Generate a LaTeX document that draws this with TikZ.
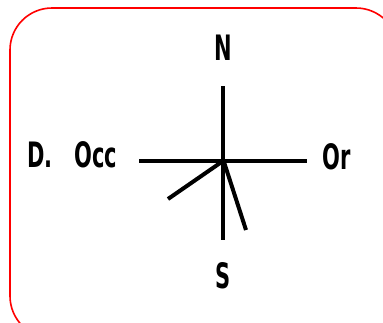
\documentclass[tikz,border=0pt]{standalone}
\usepackage{fontspec}
\newfontfamily\compassfont[FakeStretch=0.6]{DejaVu Sans}
\usetikzlibrary{positioning,calc}

\tikzset{
  dirlabel/.style={font=\compassfont\bfseries\fontsize{35}{38}\selectfont,inner sep=0pt},
  arm/.style={line width=4pt,black}
}

\begin{document}
\begin{tikzpicture}[x=1pt,y=-1pt]
  \useasboundingbox (0,0) rectangle (383,322);
  \begin{scope}
    \clip (0,0) rectangle (383,322);
    \draw[red,line width=1.6pt,rounded corners=42pt] (10,8) rectangle (398,338);
  \end{scope}
  % compass arms
  \coordinate (mid) at (223,161);
  \coordinate (top) at (223,86);
  \coordinate (bot) at (223,240);
  \coordinate (west) at (139,161);
  \coordinate (east) at (307,161);
  \coordinate (swend) at (168,199);
  \coordinate (ssend) at (246,230);
  \draw[arm] (top) -- (bot);
  \draw[arm] (west) -- (east);
  \draw[arm] (mid) -- (swend);
  \draw[arm] ($(mid)+(1,1)$) -- (ssend);
  % labels
  \node[dirlabel] (north) at (223,48) {N};
  \node[dirlabel] (south) at (223,276) {S};
  \node[dirlabel,anchor=west] (or) at (322,157) {Or};
  \node[dirlabel,anchor=west] (occ) at (74,155) {Occ};
  \node[dirlabel,anchor=west] (dlab) at (27,155) {D.};
\end{tikzpicture}
\end{document}
